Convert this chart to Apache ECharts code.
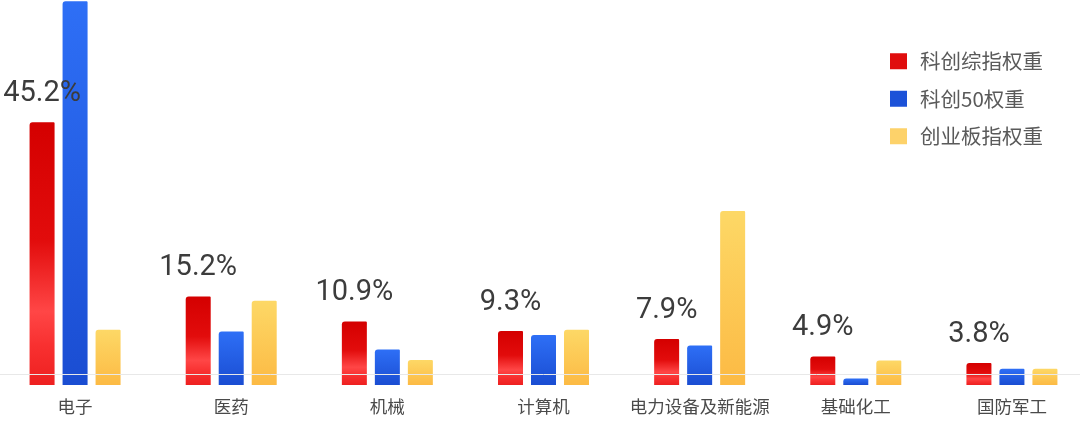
<!DOCTYPE html>
<html>
<head>
<meta charset="utf-8">
<script src="https://cdn.jsdelivr.net/npm/echarts@6/dist/echarts.min.js"></script>
<style>
  html, body { margin: 0; padding: 0; background: #ffffff; overflow: hidden; width: 1080px; height: 428px; }
  #chart { position: absolute; left: -3px; top: 0; width: 1093px; height: 428px; }
</style>
</head>
<body>
<div id="chart"></div>
<script>
// Industry categories
const categories = ['电子', '医药', '机械', '计算机', '电力设备及新能源', '基础化工', '国防军工'];

// Index weights by industry (%)
const starCompositeWeights = [45.2, 15.2, 10.9, 9.3, 7.9, 4.9, 3.8];
const star50Weights = [66.0, 9.2, 6.1, 8.6, 6.8, 1.1, 2.8];
const chinextWeights = [9.5, 14.5, 4.3, 9.5, 29.9, 4.2, 2.8];

const seriesNames = ['科创综指权重', '科创50权重', '创业板指权重'];

const CJK_FONT = '"Noto Sans CJK SC", "Noto Sans", sans-serif';
const NUM_FONT = 'Roboto, "Noto Sans", sans-serif';

function vGrad(stops) {
  return {
    type: 'linear', x: 0, y: 0, x2: 0, y2: 1,
    colorStops: stops.map(s => ({ offset: s[0], color: s[1] }))
  };
}

const redFill = vGrad([[0, '#d40000'], [0.45, '#e20c0c'], [0.72, '#ff4646'], [0.85, '#f83030'], [1, '#ee2020']]);
const blueFill = vGrad([[0, '#2e6ff6'], [1, '#1a4dd2']]);
const yellowFill = vGrad([[0, '#fdd866'], [1, '#fcba44']]);

const chart = echarts.init(document.getElementById('chart'), null, { renderer: 'canvas' });

chart.setOption({
  animation: false,
  backgroundColor: '#ffffff',
  grid: { left: 0, right: 0, top: 0, bottom: 43, containLabel: false },
  legend: {
    orient: 'vertical',
    left: 893,
    top: 51,
    padding: 0,
    itemWidth: 17,
    itemHeight: 16,
    itemGap: 17,
    icon: 'rect',
    textStyle: { fontSize: 20.5, color: '#5a5a5a', fontFamily: CJK_FONT, padding: [0, 0, 0, 8] },
    data: [
      { name: seriesNames[0], itemStyle: { color: '#e00d0d' } },
      { name: seriesNames[1], itemStyle: { color: '#1c52d8' } },
      { name: seriesNames[2], itemStyle: { color: '#fdd26a' } }
    ]
  },
  xAxis: {
    type: 'category',
    data: categories,
    axisLine: { show: false },
    axisTick: { show: false },
    axisLabel: { interval: 0, color: '#4a4a4a', fontSize: 17.5, fontFamily: CJK_FONT, margin: 13 }
  },
  yAxis: {
    type: 'value',
    min: 0,
    max: 66.2,
    show: false,
    splitLine: { show: false }
  },
  series: [
    {
      name: seriesNames[0],
      type: 'bar',
      data: starCompositeWeights,
      barWidth: 25,
      barGap: '32%',
      itemStyle: { color: redFill, borderRadius: [3, 1, 0, 0] },
      label: {
        show: true,
        position: 'top',
        distance: 14,
        formatter: p => p.value.toFixed(1) + '%',
        fontSize: 29,
        color: '#3c3c3c',
        fontFamily: NUM_FONT
      },
      markLine: {
        silent: true,
        symbol: 'none',
        label: { show: false },
        lineStyle: { color: '#e8e8e8', width: 1, type: 'solid' },
        data: [{ yAxis: 1.9 }]
      },
      z: 3
    },
    {
      name: seriesNames[1],
      type: 'bar',
      data: star50Weights,
      barWidth: 25,
      barGap: '32%',
      itemStyle: { color: blueFill, borderRadius: [3, 1, 0, 0] },
      z: 3
    },
    {
      name: seriesNames[2],
      type: 'bar',
      data: chinextWeights,
      barWidth: 25,
      barGap: '32%',
      itemStyle: { color: yellowFill, borderRadius: [3, 1, 0, 0] },
      z: 3
    }
  ]
});
</script>
</body>
</html>
